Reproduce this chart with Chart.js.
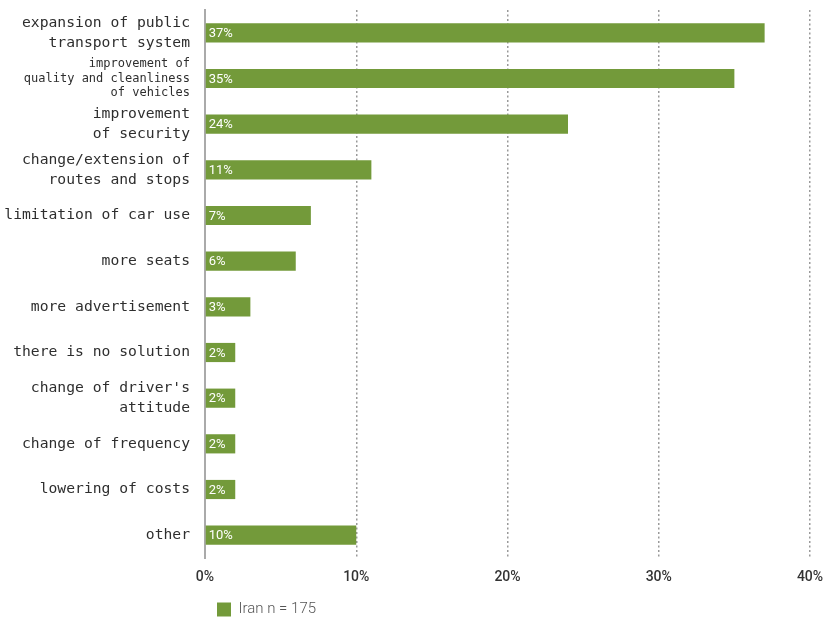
<!DOCTYPE html>
<html>
<head>
<meta charset="utf-8">
<script src="https://cdn.jsdelivr.net/npm/chart.js@4/dist/chart.umd.min.js"></script>
<style>
  html, body { margin: 0; padding: 0; background: #fff; }
  #wrap { width: 827px; height: 617px; }
</style>
</head>
<body>
<div id="wrap"><canvas id="chart" width="827" height="617"></canvas></div>
<script>
// ========================================
// DATA
// ========================================
const categories = [
  ["expansion of public", "transport system"],
  ["improvement of", "quality and cleanliness", "of vehicles"],
  ["improvement", "of security"],
  ["change/extension of", "routes and stops"],
  "limitation of car use",
  "more seats",
  "more advertisement",
  "there is no solution",
  ["change of driver's", "attitude"],
  "change of frequency",
  "lowering of costs",
  "other",
];
const iranValues = [37, 35, 24, 11, 7, 6, 3, 2, 2, 2, 2, 10];
const xTicks = [0, 10, 20, 30, 40];
const seriesName = "Iran n = 175";

const GREEN = "#739a3a";
const LABEL_MONO = "'DejaVu Sans Mono', monospace";
const LABEL_SANS = "Roboto, 'DejaVu Sans', sans-serif";

// ========================================
// VALUE LABELS INSIDE BARS
// ========================================
const barValueLabels = {
  id: "barValueLabels",
  afterDatasetsDraw(chart) {
    const { ctx } = chart;
    const meta = chart.getDatasetMeta(0);
    ctx.save();
    ctx.fillStyle = "#ffffff";
    ctx.font = "400 13px " + LABEL_SANS;
    ctx.textAlign = "left";
    ctx.textBaseline = "middle";
    meta.data.forEach((bar, i) => {
      ctx.fillText(iranValues[i] + "%", bar.base + 3, bar.y + 1);
    });
    ctx.restore();
  },
};

// ========================================
// CHART
// ========================================
new Chart(document.getElementById("chart"), {
  type: "bar",
  data: {
    labels: categories,
    datasets: [
      {
        label: seriesName,
        data: iranValues,
        backgroundColor: GREEN,
        borderWidth: 0,
        barPercentage: 0.42,
        categoryPercentage: 1,
      },
    ],
  },
  options: {
    indexAxis: "y",
    responsive: false,
    animation: false,
    layout: { padding: { top: 10, right: 17, bottom: -10, left: 0 } },
    plugins: {
      legend: {
        position: "bottom",
        align: "start",
        fullSize: false,
        labels: {
          boxWidth: 14,
          boxHeight: 14,
          padding: 12,
          color: "#555",
          font: { family: LABEL_SANS, size: 15, weight: "300" },
          generateLabels: (chart) => {
            const items = Chart.defaults.plugins.legend.labels.generateLabels(chart);
            items.forEach((it) => { it.lineWidth = 0; });
            return items;
          },
        },
      },
      tooltip: { enabled: false },
    },
    scales: {
      x: {
        min: 0,
        max: 40,
        afterBuildTicks: (scale) => {
          scale.ticks = xTicks.map((v) => ({ value: v }));
        },
        afterFit: (scale) => {
          scale.height = 32;
          scale.paddingLeft = 0;
          scale.paddingRight = 0;
        },
        border: { display: false, dash: [2, 2.5] },
        grid: {
          color: (c) => (c.index === 0 ? "rgba(0,0,0,0)" : "#999999"),
          lineWidth: 1.5,
          drawTicks: false,
        },
        ticks: {
          padding: 11,
          color: "#333",
          font: { family: LABEL_SANS, size: 14, weight: "500" },
          callback: (v) => v + "%",
        },
      },
      y: {
        afterFit: (scale) => {
          scale.width = 205;
          scale.paddingTop = 0;
          scale.paddingBottom = 0;
        },
        border: { display: true, color: "#aaaaaa", width: 2 },
        grid: { display: false, drawTicks: false },
        ticks: {
          autoSkip: false,
          padding: 15,
          color: "#2e2e2e",
          font: (c) =>
            c.index === 1
              ? { family: LABEL_MONO, size: 12, lineHeight: 1.2 }
              : { family: LABEL_MONO, size: 14.7, lineHeight: 1.38 },
        },
      },
    },
  },
  plugins: [barValueLabels],
});
</script>
</body>
</html>
